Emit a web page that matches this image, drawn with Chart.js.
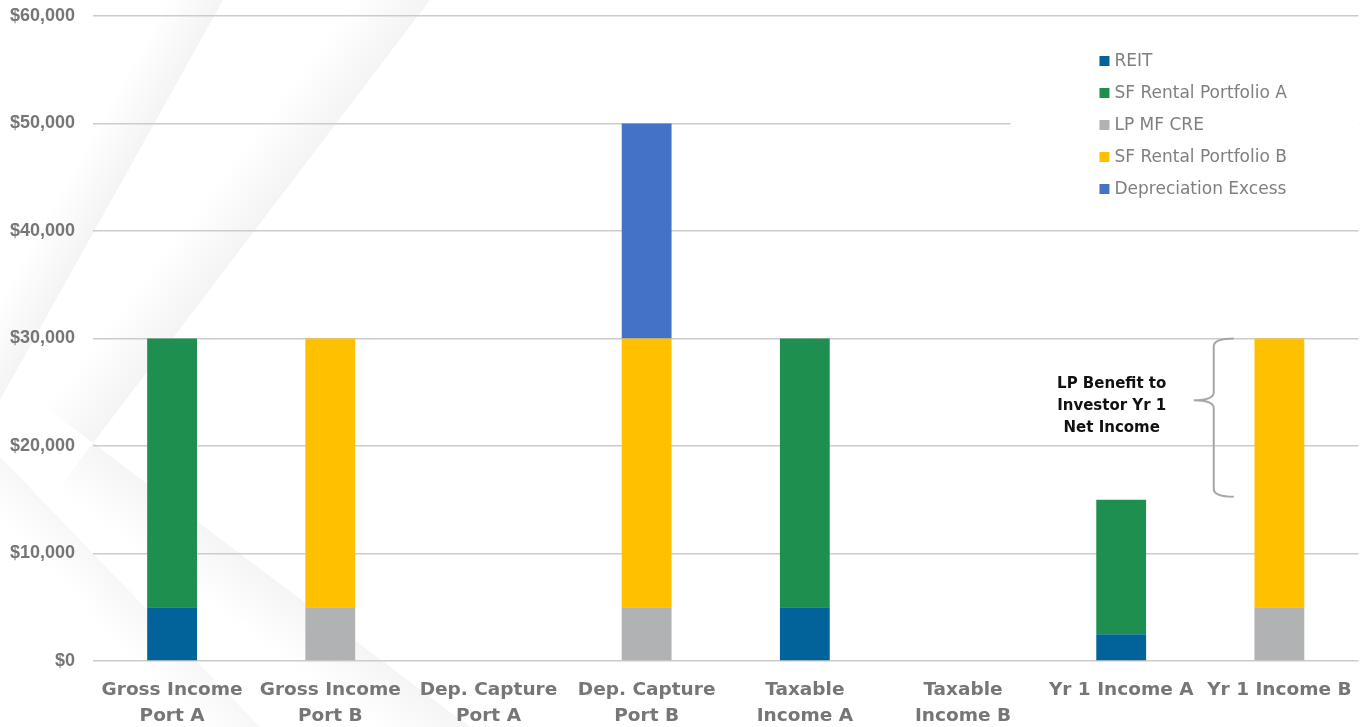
<!DOCTYPE html>
<html>
<head>
<meta charset="utf-8">
<script src="https://cdn.jsdelivr.net/npm/chart.js@4.4.1/dist/chart.umd.min.js"></script>
<style>
html,body{margin:0;padding:0;background:#fff;overflow:hidden}
#wrap{position:relative;width:1368px;height:727px}
</style>
</head>
<body>
<div id="wrap"><canvas id="c" width="1368" height="727"></canvas></div>
<script>
// ---- data ----
const categories = [
  ['Gross Income', 'Port A'],
  ['Gross Income', 'Port B'],
  ['Dep. Capture', 'Port A'],
  ['Dep. Capture', 'Port B'],
  ['Taxable', 'Income A'],
  ['Taxable', 'Income B'],
  'Yr 1 Income A',
  'Yr 1 Income B'
];
const seriesNames = ['REIT', 'SF Rental Portfolio A', 'LP MF CRE', 'SF Rental Portfolio B', 'Depreciation Excess'];
const reit      = [5000, 0, 0, 0, 5000, 0, 2500, 0];
const sfRentalA = [25000, 0, 0, 0, 25000, 0, 12500, 0];
const lpMfCre   = [0, 5000, 0, 5000, 0, 0, 0, 5000];
const sfRentalB = [0, 25000, 0, 25000, 0, 0, 0, 25000];
const depExcess = [0, 0, 0, 20000, 0, 0, 0, 0];
const yTicks = [0, 10000, 20000, 30000, 40000, 50000, 60000];
const annotationLines = ['LP Benefit to', 'Investor Yr 1', 'Net Income'];
const braceRange = [15000, 30000];

const colors = ['#02639b', '#1e8f4f', '#b1b2b4', '#ffc000', '#4472c4'];
const allSeries = [reit, sfRentalA, lpMfCre, sfRentalB, depExcess];

const GRAY = '#767676';

// decorative background ribbons
const bgPlugin = {
  id: 'bg',
  beforeDraw(chart) {
    const ctx = chart.ctx;
    ctx.save();
    ctx.fillStyle = '#fff';
    ctx.fillRect(0, 0, chart.width, chart.height);
    function band(x1, y1, x2, y2, w, a) {
      const dx = x2 - x1, dy = y2 - y1, L = Math.hypot(dx, dy);
      let nx = dy / L, ny = -dx / L;
      if (nx > 0) { nx = -nx; ny = -ny; }
      const mx = (x1 + x2) / 2, my = (y1 + y2) / 2;
      const g = ctx.createLinearGradient(mx, my, mx + nx * w, my + ny * w);
      g.addColorStop(0, 'rgba(0,0,0,' + a + ')');
      g.addColorStop(1, 'rgba(0,0,0,0)');
      ctx.fillStyle = g;
      ctx.beginPath();
      ctx.moveTo(x1, y1);
      ctx.lineTo(x2, y2);
      ctx.lineTo(x2 + nx * w, y2 + ny * w);
      ctx.lineTo(x1 + nx * w, y1 + ny * w);
      ctx.closePath();
      ctx.fill();
    }
    band(223, 0, -20, 436, 50, 0.045);
    band(-20, 436, 260, 727, 45, 0.03);
    band(430, 0, 93, 443, 60, 0.045);
    band(93, 443, 470, 727, 60, 0.04);
    ctx.restore();
  }
};

// legend box drawn over the grid
const legendPlugin = {
  id: 'customLegend',
  beforeDatasetsDraw(chart) {
    const ctx = chart.ctx;
    const ca = chart.chartArea;
    ctx.save();
    ctx.fillStyle = '#fff';
    ctx.fillRect(ca.right - 348, ca.top + 16, 348, 190);
    ctx.font = '17px "DejaVu Sans"';
    ctx.textBaseline = 'middle';
    ctx.textAlign = 'left';
    chart.data.datasets.forEach((ds, i) => {
      const y = ca.top + 45 + i * 32;
      const x = ca.right - 259;
      ctx.fillStyle = ds.backgroundColor;
      ctx.fillRect(x, y - 5, 10, 10);
      ctx.fillStyle = '#7f7f7f';
      ctx.fillText(ds.label, x + 15, y + 1);
    });
    ctx.restore();
  }
};

// annotation with brace
const annotationPlugin = {
  id: 'annot',
  afterDatasetsDraw(chart) {
    const ctx = chart.ctx;
    const xs = chart.scales.x, ys = chart.scales.y;
    const step = xs.getPixelForValue(1) - xs.getPixelForValue(0);
    const yTop = ys.getPixelForValue(braceRange[1]);
    const yBot = ys.getPixelForValue(braceRange[0]) - 3;
    const bx = xs.getPixelForValue(6) + 0.585 * step;
    const ym = yTop + (yBot - yTop) * 0.39;
    ctx.save();
    ctx.strokeStyle = '#a6a6a6';
    ctx.lineWidth = 2;
    ctx.beginPath();
    ctx.moveTo(bx + 20, yTop);
    ctx.quadraticCurveTo(bx, yTop, bx, yTop + 8);
    ctx.lineTo(bx, ym - 8);
    ctx.quadraticCurveTo(bx, ym, bx - 20, ym);
    ctx.quadraticCurveTo(bx, ym, bx, ym + 8);
    ctx.lineTo(bx, yBot - 8);
    ctx.quadraticCurveTo(bx, yBot, bx + 20, yBot);
    ctx.stroke();

    ctx.fillStyle = '#111';
    ctx.font = 'bold 15px "DejaVu Sans"';
    ctx.textAlign = 'center';
    ctx.textBaseline = 'middle';
    const tx = xs.getPixelForValue(6) - 0.06 * step;
    annotationLines.forEach((t, i) => {
      ctx.fillText(t, tx, ym - 16 + i * 22);
    });
    ctx.restore();
  }
};

new Chart(document.getElementById('c'), {
  type: 'bar',
  data: {
    labels: categories,
    datasets: seriesNames.map((n, i) => ({
      label: n,
      data: allSeries[i],
      backgroundColor: colors[i],
      borderWidth: 0,
      barPercentage: 0.315,
      categoryPercentage: 1.0
    }))
  },
  options: {
    responsive: false,
    animation: false,
    layout: { padding: { top: 16, right: 7, left: 0, bottom: 0 } },
    plugins: { legend: { display: false }, tooltip: { enabled: false } },
    scales: {
      x: {
        stacked: true,
        grid: { display: false, drawTicks: false },
        border: { display: false },
        ticks: {
          color: GRAY,
          font: { family: 'DejaVu Sans', size: 18.5, weight: 'bold', lineHeight: 1.42 },
          padding: 16,
          maxRotation: 0,
          autoSkip: false
        },
        afterFit(s) { s.height = 66; s.paddingTop = 0; s.paddingBottom = 0; }
      },
      y: {
        stacked: true,
        min: 0,
        max: 60000,
        afterBuildTicks(s) { s.ticks = yTicks.map(v => ({ value: v })); },
        grid: { color: '#cccccc', lineWidth: 1.5, drawTicks: false },
        border: { display: false },
        ticks: {
          color: GRAY,
          font: { family: 'Liberation Sans', size: 18, weight: 'bold' },
          padding: 18,
          callback: v => '$' + v.toLocaleString('en-US')
        },
        afterFit(s) { s.width = 93; s.paddingTop = 0; s.paddingBottom = 0; }
      }
    }
  },
  plugins: [bgPlugin, legendPlugin, annotationPlugin]
});
</script>
</body>
</html>
